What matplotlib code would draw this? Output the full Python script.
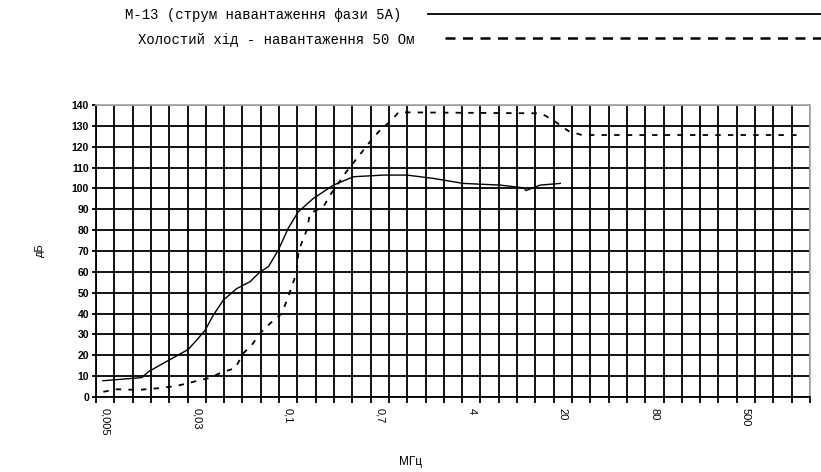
#!/usr/bin/env python3
# -*- coding: utf-8 -*-

import matplotlib
matplotlib.use('Agg')
import matplotlib.pyplot as plt
from matplotlib.lines import Line2D

plt.rcParams['font.family'] = ['Liberation Sans', 'DejaVu Sans']

# Позиції по осі X у поділках сітки (39 поділок), значення в дБ
m13_x = [0.38, 2.5, 2.86, 3.5, 4.32, 5.04, 5.5, 5.96, 6.41, 6.96, 7.69, 8.42, 8.96,
         9.42, 9.96, 10.5, 11.05, 11.87, 12.97, 14.06, 15.7, 16.98, 18.43, 20.07,
         22.08, 23.35, 23.5, 24.26, 25.36]
m13_y = [7.8, 9.3, 12.1, 15.3, 19.3, 22.8, 27.3, 32.0, 39.3, 46.5, 52.0, 55.3, 60.0,
         62.5, 70.5, 80.9, 88.8, 95.2, 101.6, 105.6, 106.4, 106.4, 104.8, 102.4,
         101.6, 100.3, 99.0, 101.6, 102.4]

idle_x = [0.4, 1.13, 2.31, 3.4, 4.41, 5.32, 6.14, 6.96, 7.6, 8.05, 8.51, 8.96, 9.51,
          10.15, 10.6, 10.97, 11.05, 11.15, 11.51, 11.69, 12.42, 12.79, 13.61, 14.25,
          14.97, 15.52, 16.16, 16.52, 24.26, 24.54, 25.08, 25.81, 26.54, 38.29]
idle_y = [2.5, 3.7, 3.4, 4.2, 5.3, 7.3, 9.0, 12.1, 13.8, 21.0, 24.9, 30.5, 35.3,
          40.0, 50.5, 60.0, 68.9, 72.0, 80.0, 88.0, 91.2, 96.8, 107.2, 114.4,
          122.4, 128.0, 132.8, 136.5, 136.0, 134.9, 132.0, 127.5, 125.6, 125.6]

# Підписи частот (кожна п'ята категорія)
freq_pos = [0, 5, 10, 15, 20, 25, 30, 35]
freq_labels = ['0,005', '0,03', '0,1', '0,7', '4', '20', '80', '500']
n_cells = 39

fig = plt.figure(figsize=(8.21, 4.72), dpi=100)
ax = fig.add_axes([96 / 821, 75 / 472, 714 / 821, 292 / 472])

# Сітка
ax.set_xlim(0, n_cells)
ax.set_ylim(0, 140)
ax.set_xticks(range(n_cells + 1))
ax.set_xticklabels([])
ax.set_yticks(range(0, 141, 10))
ax.grid(True, color='black', linewidth=1.3)
ax.set_axisbelow(True)

ax.set_xticks([p + 0.5 for p in freq_pos], freq_labels, minor=True)
ax.tick_params(axis='x', which='minor', length=0, pad=8, labelsize=8,
               labelrotation=-90)
ax.tick_params(axis='x', which='major', length=4, width=1.3, color='black')
ax.tick_params(axis='y', length=3, width=1.3, pad=2, labelsize=7.5)
for lab in ax.get_yticklabels():
    lab.set_fontweight('bold')
for lab in ax.get_xticklabels(minor=True):
    lab.set_va('top')

for s in ['top', 'right']:
    ax.spines[s].set_color('#aaaaaa')
    ax.spines[s].set_linewidth(1.3)
for s in ['left', 'bottom']:
    ax.spines[s].set_color('black')
    ax.spines[s].set_linewidth(1.3)

# Криві
ax.plot(m13_x, m13_y, color='black', linewidth=1.0)
ax.plot(idle_x, idle_y, color='black', linewidth=1.3, linestyle=(0, (3, 4)))

fig.text(40 / 821, 1 - 250 / 472, 'дБ', rotation=90, ha='center', va='center',
         fontsize=8)
fig.text(410 / 821, 1 - 462 / 472, 'МГц', ha='center', va='center', fontsize=8.5)

# Легенда
fig.text(125 / 821, 1 - 15 / 472, 'М-13 (струм навантаження фази 5А)',
         family='Liberation Mono', fontsize=10, ha='left', va='center')
fig.text(138 / 821, 1 - 40 / 472, 'Холостий хід - навантаження 50 Ом',
         family='Liberation Mono', fontsize=10, ha='left', va='center')
fig.add_artist(Line2D([428 / 821, 1.0], [1 - 14 / 472, 1 - 14 / 472],
                      color='black', linewidth=1.3, transform=fig.transFigure))
fig.add_artist(Line2D([445 / 821, 1.0], [1 - 38 / 472, 1 - 38 / 472],
                      color='black', linewidth=1.8, linestyle=(0, (4, 3)),
                      transform=fig.transFigure))

fig.savefig('out.png', dpi=100)
